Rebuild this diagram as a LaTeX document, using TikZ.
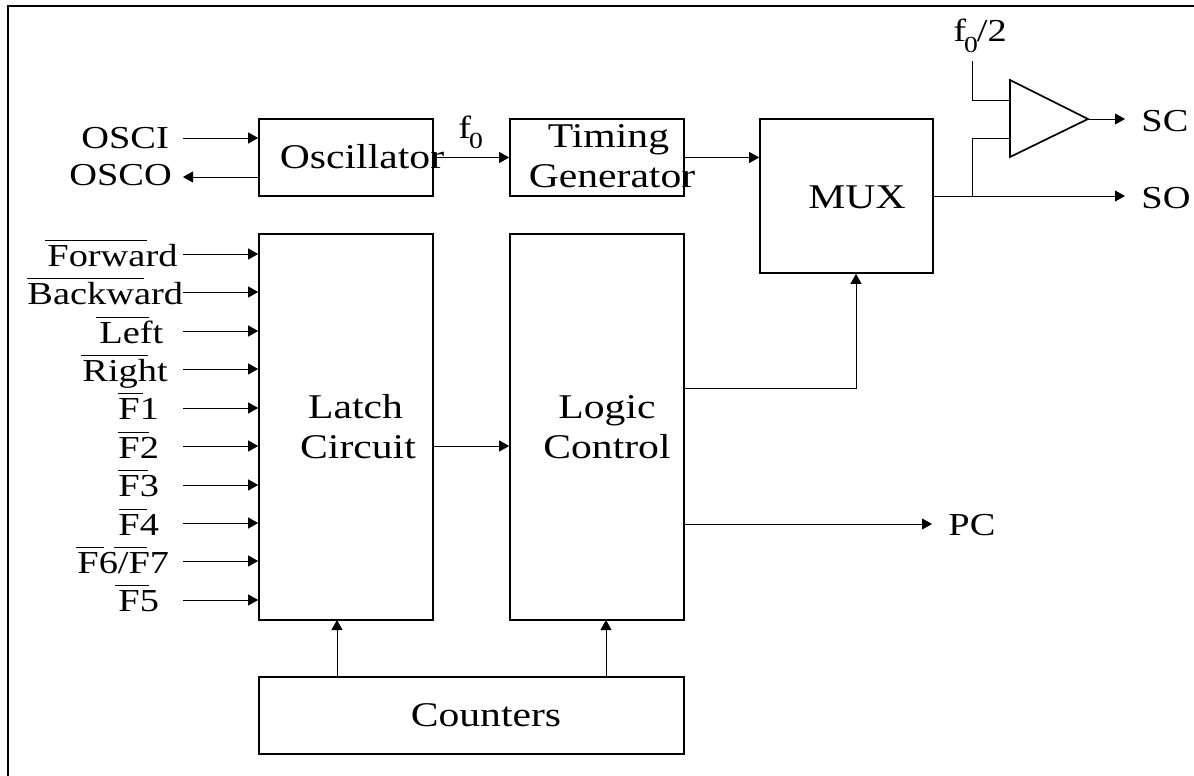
\documentclass[tikz,border=0pt]{standalone}
\usepackage{fontspec}
\setmainfont[FakeStretch=1.2]{Liberation Serif}
\usetikzlibrary{arrows.meta}
\newcommand{\barover}[3]{\rlap{\hskip#1pt\raisebox{25pt}{\rule{#2pt}{1pt}}}#3}
\newcommand{\subzero}{\kern-2pt\raisebox{-10pt}{\fontsize{23}{23}\selectfont 0}}
\begin{document}
\begin{tikzpicture}[x=1pt,y=-1pt,thick,>={Triangle[length=10pt,width=11pt]},
main node/.style={rectangle,draw,line width=1.7pt,inner sep=0pt},
text node/.style={inner sep=0pt,font=\fontsize{34.7}{40}\selectfont,align=center},
label node/.style={inner sep=0pt,anchor=base west,font=\fontsize{32}{36}\selectfont}]
\useasboundingbox (0,0) rectangle (1194,776);
\draw[line width=1.7pt] (8,776) -- (8,6) -- (1194,6);
% blocks
\node[main node,minimum width=174pt,minimum height=77pt] (osc) at (346,157.5) {};
\node[main node,minimum width=174pt,minimum height=386pt] (latch) at (346,427) {};
\node[main node,minimum width=174pt,minimum height=77pt] (timing) at (597,157.5) {};
\node[main node,minimum width=174pt,minimum height=386pt] (logic) at (597,427) {};
\node[main node,minimum width=173pt,minimum height=154pt] (mux) at (846.5,196) {};
\node[main node,minimum width=425pt,minimum height=77pt] (counters) at (471.5,715.5) {};
\draw[line width=1.7pt] (1010,80) coordinate (ampa) -- (1088,119) coordinate (ampo) -- (1010,157) coordinate (ampb) -- cycle;
% block texts
\begin{scope}[every node/.style={text node}]
\node (osctext) at (362,157) {Oscillator};
\node (timingtext) at (612,156) {Timing\kern7pt\\Generator};
\node (muxtext) at (857,197) {MUX};
\node (latchtext) at (358,427) {Latch\kern5pt\\Circuit};
\node (logictext) at (607,427) {Logic\\Control};
\node (countertext) at (486,715) {Counters};
\end{scope}
% pin labels
\begin{scope}[every node/.style={label node}]
\node (osci) at (81,148) {OSCI};
\node (osco) at (69,185) {OSCO};
\node (forward) at (47,266) {\barover{-2}{102}{Forward}};
\node (backward) at (27,304) {\barover{0}{117}{Backward}};
\node (left) at (99,343) {\barover{-3}{53}{Left}};
\node (right) at (82,381) {\barover{-1}{67}{Right}};
\node (fa) at (118,419) {\barover{0}{25}{F1}};
\node (fb) at (118,458) {\barover{0}{31}{F2}};
\node (fc) at (118,496) {\barover{0}{30}{F3}};
\node (fd) at (118,535) {\barover{1}{28}{F4}};
\node (fg) at (77,573) {\barover{-1}{28}{\barover{37}{33}{F6/F7}}};
\node (fe) at (118,611) {\barover{-3}{34}{F5}};
\node (sc) at (1141,131) {SC};
\node (so) at (1141,208) {SO};
\node (pc) at (948,535) {PC};
\node (fzero) at (458,138) {f\subzero};
\node (fhalf) at (953,42) {f\subzero\kern-1pt/2};
\end{scope}
% free ends
\coordinate (oscistart) at (183,138);
\coordinate (oscoend) at (183,177);
\coordinate (halfstart) at (972,61);
\coordinate (branch) at (972,196);
\coordinate (scend) at (1125,119);
\coordinate (soend) at (1125,196);
\coordinate (pcend) at (932,524);
% connectors
\draw[->] (oscistart) -- (oscistart -| osc.west);
\draw[->] (oscoend -| osc.west) -- (oscoend);
\foreach \y in {254,292,331,369,408,446,485,523,561,600}
  \draw[->] (183,\y) -- (latch.west |- 0,\y);
\draw[->] (osc.east) -- (timing.west);
\draw[->] (timing.east) -- (mux.west |- timing.east);
\draw[->] (latch.east |- 0,446) -- (logic.west |- 0,446);
\draw[->] (logic.east |- 0,388) -| (mux.south -| 856,0);
\draw[->] (logic.east |- pcend) -- (pcend);
\draw[->] (337,677) -- (337,620);
\draw[->] (606,677) -- (606,620);
\draw (halfstart) |- (1010,100);
\draw (branch) |- (1010,138);
\draw[->] (mux.east |- soend) -- (soend);
\draw[->] (ampo) -- (scend);
\end{tikzpicture}
\end{document}
